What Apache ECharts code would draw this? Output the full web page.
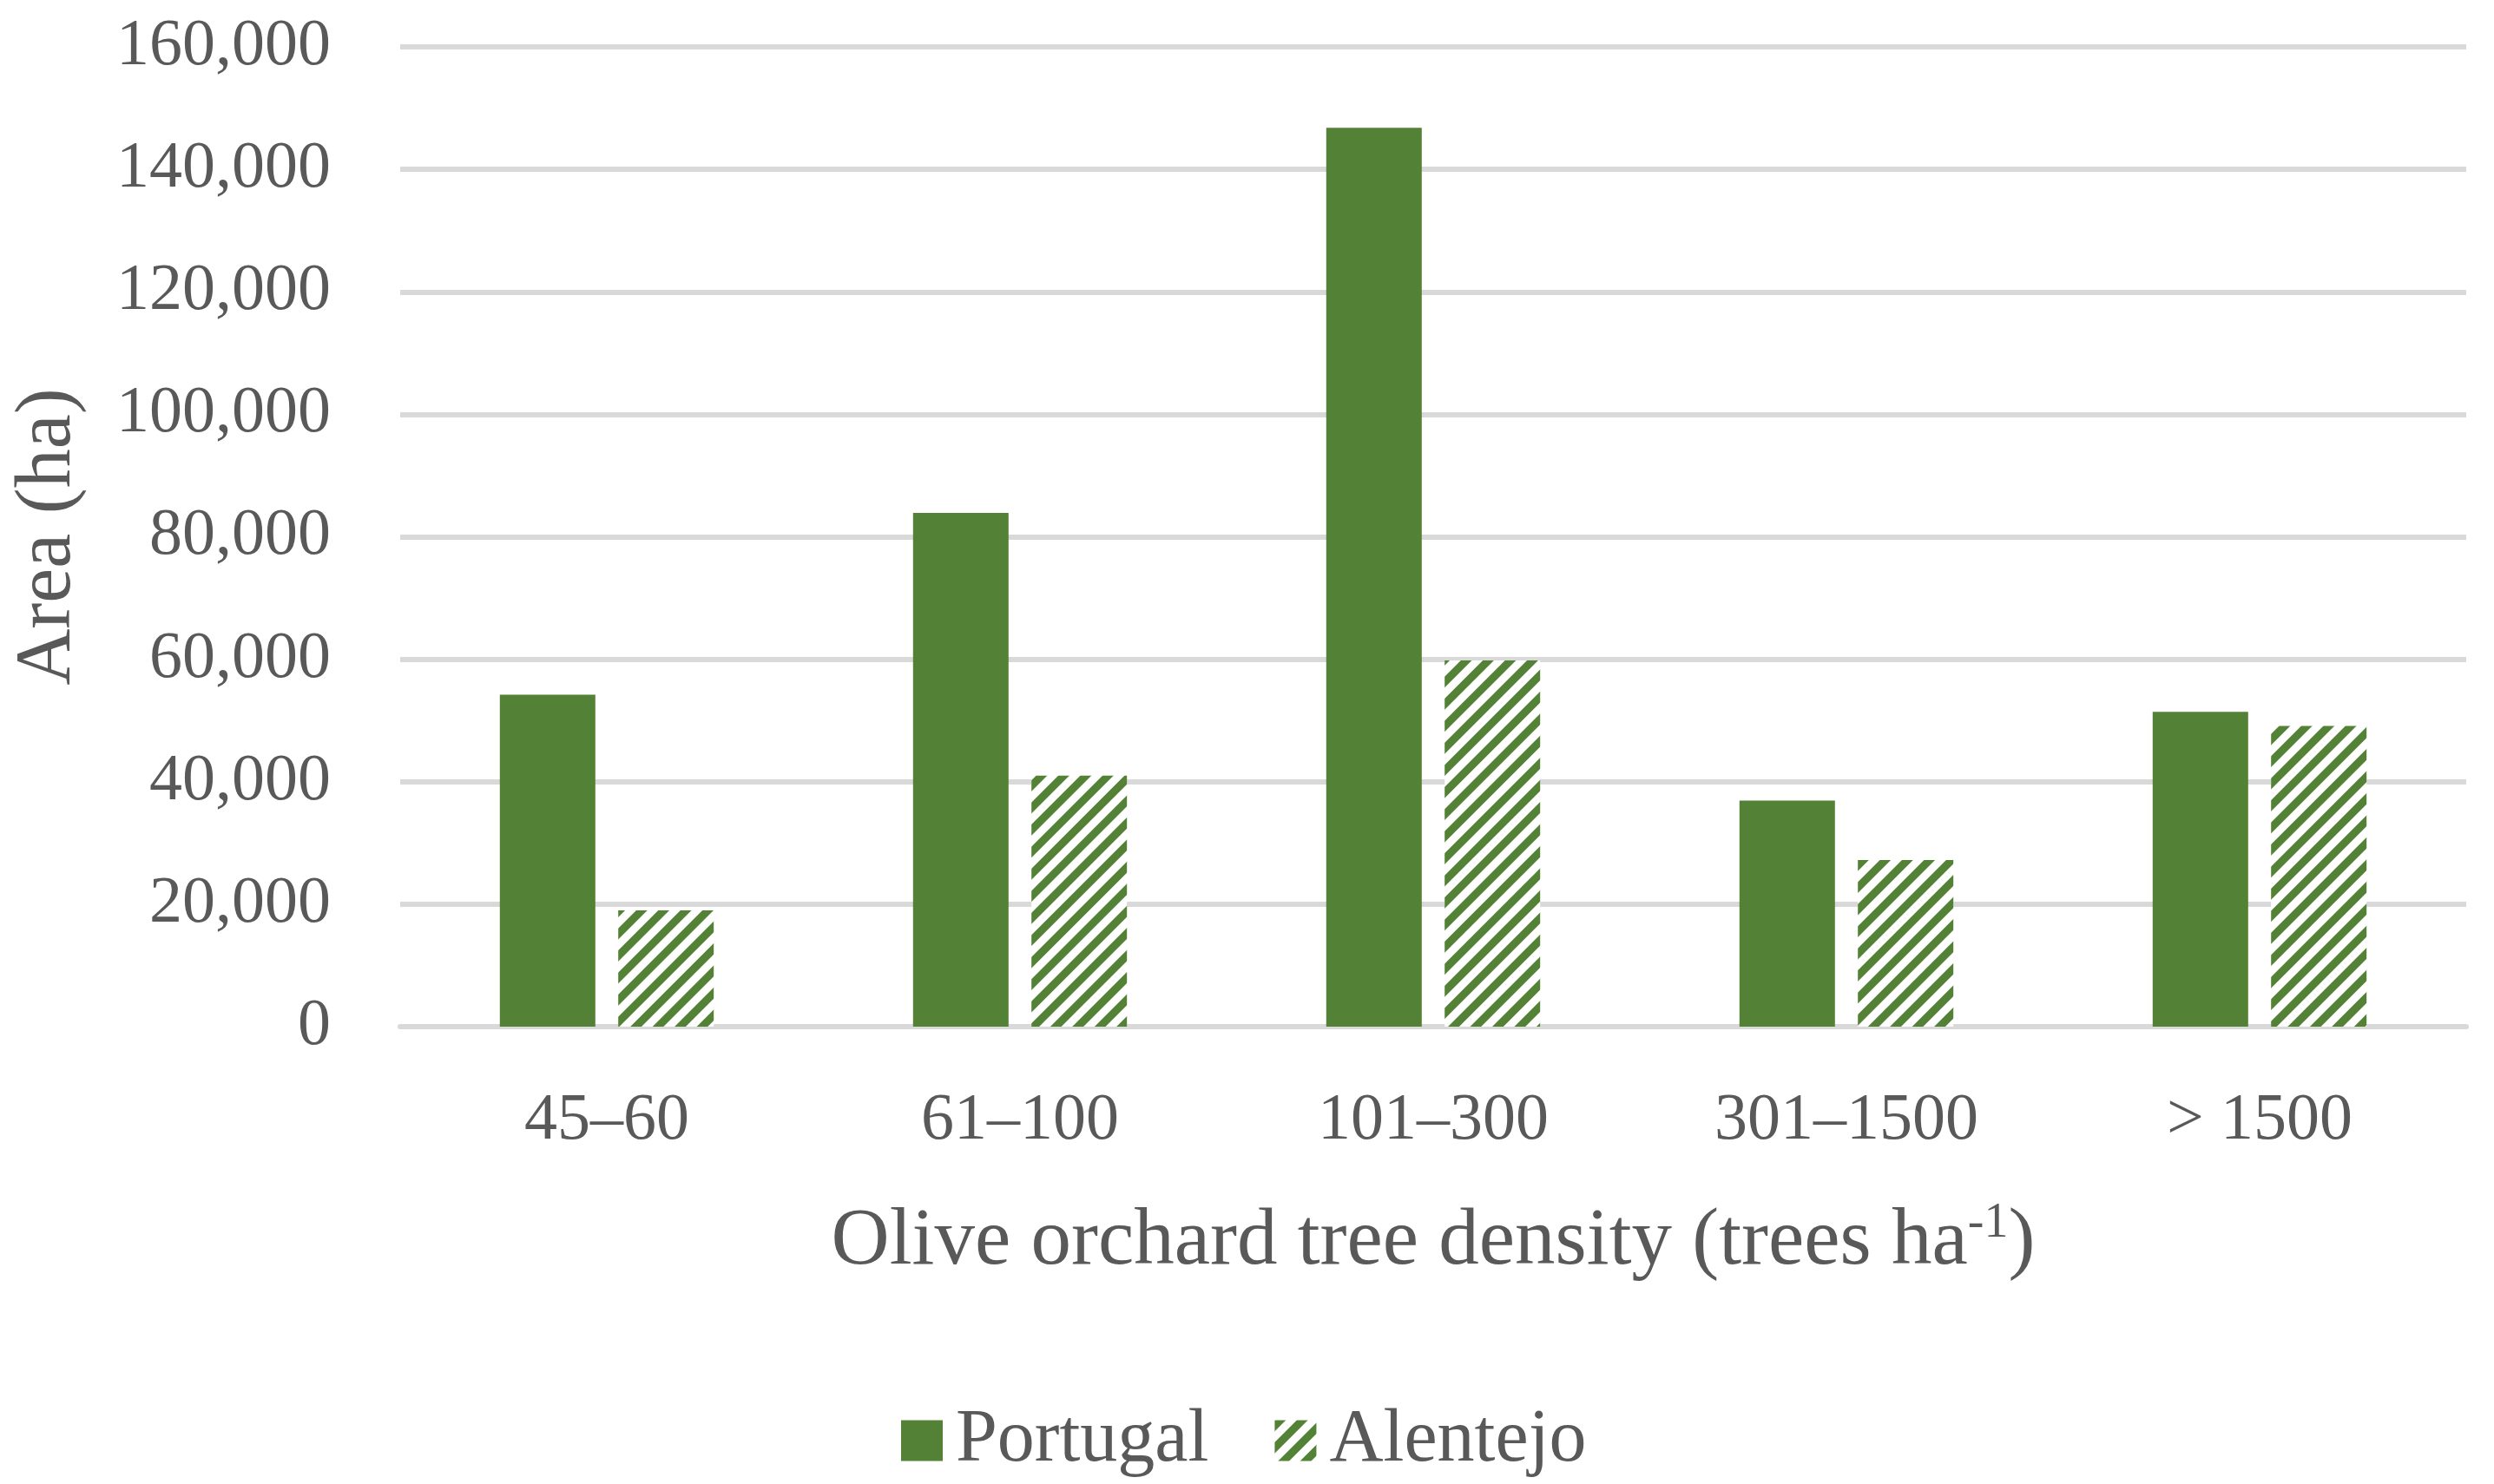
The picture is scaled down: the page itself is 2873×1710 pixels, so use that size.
<!DOCTYPE html>
<html>
<head>
<meta charset="utf-8">
<script src="https://cdn.jsdelivr.net/npm/echarts@6/dist/echarts.min.js"></script>
<style>html,body{margin:0;padding:0;background:#fff;}#c{width:2873px;height:1710px;}</style>
</head>
<body>
<div id="c"></div>
<script>
const categories = ['45–60', '61–100', '101–300', '301–1500', '> 1500'];
const portugal = [54200, 83900, 146800, 36900, 51400];
const alentejo = [19000, 41000, 59800, 27200, 49100];
const seriesNames = ['Portugal', 'Alentejo'];
const yMin = 0, yMax = 160000, yStep = 20000;

const GREEN = '#538135';
const TEXT = '#595959';
const FONT = 'Liberation Serif';

const stripes = {
  symbol: 'rect',
  symbolSize: 1,
  color: GREEN,
  dashArrayX: [1, 0],
  dashArrayY: [9, 9],
  rotation: -Math.PI / 4
};

const chart = echarts.init(document.getElementById('c'), null, {renderer: 'canvas'});
chart.setOption({
  backgroundColor: '#ffffff',
  animation: false,
  textStyle: {fontFamily: FONT, color: TEXT},
  grid: {left: 461, right: 32, top: 54, bottom: 527, containLabel: false},
  legend: {
    data: seriesNames,
    left: 1033,
    top: 1612,
    icon: 'rect',
    itemWidth: 48,
    itemHeight: 47,
    itemGap: 76,
    textStyle: {fontFamily: FONT, fontSize: 86, color: TEXT, padding: [0, 0, 0, 10]}
  },
  xAxis: {
    type: 'category',
    data: categories,
    name: '{m|Olive orchard tree density (trees ha}{s|-1}{m|)}',
    nameLocation: 'middle',
    nameGap: 199,
    nameTextStyle: {
      rich: {
        m: {fontFamily: FONT, fontSize: 93, color: TEXT, lineHeight: 100},
        s: {fontFamily: FONT, fontSize: 56, color: TEXT, lineHeight: 60, verticalAlign: 'top'}
      }
    },
    axisLine: {show: true, lineStyle: {color: '#d9d9d9', width: 6}},
    axisTick: {show: false},
    axisLabel: {fontFamily: FONT, fontSize: 76, color: TEXT, margin: 71}
  },
  yAxis: {
    type: 'value',
    min: yMin, max: yMax, interval: yStep,
    name: 'Area (ha)',
    nameLocation: 'middle',
    nameGap: 360,
    nameTextStyle: {fontFamily: FONT, fontSize: 90, color: TEXT},
    axisLine: {show: false},
    axisTick: {show: false},
    splitLine: {lineStyle: {color: '#d9d9d9', width: 6}},
    axisLabel: {
      fontFamily: FONT, fontSize: 76, color: TEXT, margin: 80,
      formatter: v => v.toLocaleString('en-US')
    }
  },
  series: [
    {
      name: seriesNames[0],
      type: 'bar',
      data: portugal,
      barWidth: 110,
      barGap: '24%',
      itemStyle: {color: GREEN}
    },
    {
      name: seriesNames[1],
      type: 'bar',
      data: alentejo,
      barWidth: 110,
      itemStyle: {color: '#ffffff', decal: stripes}
    }
  ]
});
</script>
</body>
</html>
